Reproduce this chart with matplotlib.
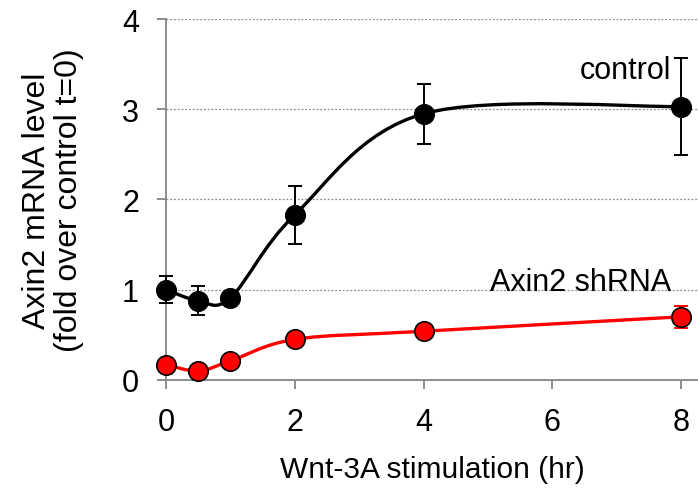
import numpy as np
import matplotlib.pyplot as plt
from matplotlib.path import Path
from matplotlib.patches import PathPatch

plt.rcParams['font.family'] = ['Liberation Sans', 'DejaVu Sans']

hours = [0, 0.5, 1, 2, 4, 8]
control = [1.00, 0.88, 0.91, 1.83, 2.95, 3.03]
control_err = [0.15, 0.16, 0.0, 0.32, 0.33, 0.54]
shrna = [0.17, 0.10, 0.21, 0.45, 0.54, 0.70]
shrna_err = [0.0, 0.0, 0.0, 0.0, 0.0, 0.12]


def smooth_path(x, y):
    # Catmull-Rom style smoothing expressed as cubic Bezier segments
    pts = np.column_stack([x, y]).astype(float)
    n = len(pts)
    verts = [pts[0]]
    codes = [Path.MOVETO]
    for i in range(n - 1):
        p0 = pts[max(i - 1, 0)]
        p1 = pts[i]
        p2 = pts[i + 1]
        p3 = pts[min(i + 2, n - 1)]
        c1 = p1 + (p2 - p0) / 6.0
        c2 = p2 - (p3 - p1) / 6.0
        verts += [c1, c2, p2]
        codes += [Path.CURVE4] * 3
    return Path(verts, codes)


fig = plt.figure(figsize=(6.98, 4.89), dpi=100)
ax = fig.add_axes([0.2378, 0.2209, 0.7622, 0.7382])

for yv in [1, 2, 3, 4]:
    ax.axhline(yv, color='#8c8c8c', lw=0.9, ls=(0, (1.5, 1.5)), zorder=0)

for vals, err, col in [(control, control_err, 'black'), (shrna, shrna_err, 'red')]:
    ax.add_patch(PathPatch(smooth_path(hours, vals), fill=False, edgecolor=col,
                           lw=2.4, capstyle='round', zorder=2, clip_on=False))
    ax.errorbar(hours, vals, yerr=err, fmt='none', ecolor=col, elinewidth=1.4,
                capsize=5, capthick=1.4, zorder=3, clip_on=False)
    ax.plot(hours, vals, 'o', ms=14, mfc=col, mec='black', mew=1.2,
            zorder=4, clip_on=False)

ax.set_xlim(0, 8.26)
ax.set_ylim(0, 4)
ax.set_xticks([0, 2, 4, 6, 8])
ax.set_yticks([0, 1, 2, 3, 4])

for side in ['top', 'right']:
    ax.spines[side].set_visible(False)
for side in ['left', 'bottom']:
    ax.spines[side].set_color('#8c8c8c')
    ax.spines[side].set_linewidth(1.4)
ax.tick_params(axis='both', direction='out', length=6.5, width=1.4,
               color='#8c8c8c', labelsize=22)
ax.tick_params(axis='x', pad=13)
ax.tick_params(axis='y', pad=13)

ax.set_xlabel('Wnt-3A stimulation (hr)', fontsize=21.5, labelpad=13)
ax.set_ylabel('Axin2 mRNA level\n(fold over control t=0)', fontsize=23,
              labelpad=27, linespacing=1.12)

ax.text(7.85, 3.43, 'control', ha='right', va='center', fontsize=22)
ax.text(7.85, 1.09, 'Axin2 shRNA', ha='right', va='center', fontsize=22)

fig.savefig('out.png', dpi=100)
